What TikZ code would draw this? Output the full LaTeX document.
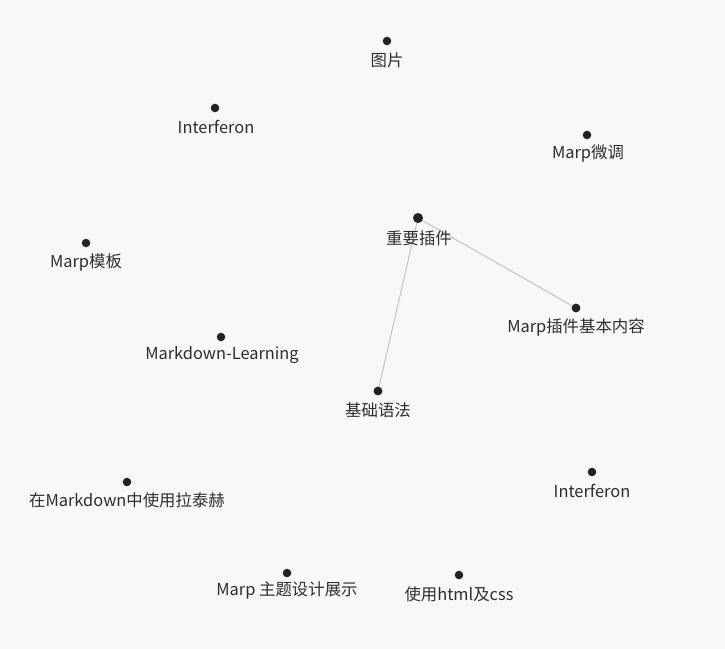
\documentclass[tikz,border=0pt]{standalone}
\usepackage{fontspec}
\setmainfont{Noto Sans CJK SC}
\definecolor{bg}{HTML}{F7F8FA}
\definecolor{dotc}{HTML}{222222}
\definecolor{edgec}{HTML}{C4C4C4}
\definecolor{txt}{HTML}{2E2E2E}
\begin{document}
\begin{tikzpicture}[x=0.75pt,y=-0.75pt,
  dotnode/.style={circle,fill=dotc,inner sep=0pt,minimum size=6.4pt},
  bigdot/.style={circle,fill=dotc,inner sep=0pt,minimum size=7.5pt},
  lbl/.style={font=\fontsize{12.3pt}{14pt}\selectfont,text=txt,inner sep=0pt,anchor=center},
  edge/.style={draw=edgec,line width=0.75pt}]
\fill[bg] (0,0) rectangle (725,649);
\useasboundingbox (0,0) rectangle (725,649);
\node[dotnode] (n1) at (387,41) {};
\node[lbl] (t1) at (387,60) {图片};
\node[dotnode] (n2) at (215,108) {};
\node[lbl] (t2) at (216,127) {Interferon};
\node[dotnode] (n3) at (587,135) {};
\node[lbl] (t3) at (588,153) {Marp微调};
\node[dotnode] (n5) at (86,243) {};
\node[lbl] (t5) at (86,262) {Marp模板};
\node[dotnode] (n6) at (576,308) {};
\node[lbl] (t6) at (576,327) {Marp插件基本内容};
\node[dotnode] (n7) at (221,337) {};
\node[lbl] (t7) at (222,355) {Markdown-Learning};
\node[dotnode] (n8) at (378,391) {};
\node[lbl] (t8) at (378,410) {基础语法};
\node[dotnode] (n9) at (592,472) {};
\node[lbl] (t9) at (592,491) {Interferon};
\node[dotnode] (n10) at (127,482) {};
\node[lbl] (t10) at (127,500) {在Markdown中使用拉泰赫};
\node[dotnode] (n11) at (287,573) {};
\node[lbl] (t11) at (287,591) {Marp 主题设计展示};
\node[dotnode] (n12) at (459,575) {};
\node[lbl] (t12) at (459,594) {使用html及css};
\path[edge] (418,218) coordinate (c4) -- (n6.center);
\path[edge] (c4) -- (n8.center);
\node[bigdot] (n4) at (c4) {};
\node[lbl] (t4) at (419,238) {重要插件};
\node[dotnode] at (n6) {};
\node[dotnode] at (n8) {};
\end{tikzpicture}
\end{document}
